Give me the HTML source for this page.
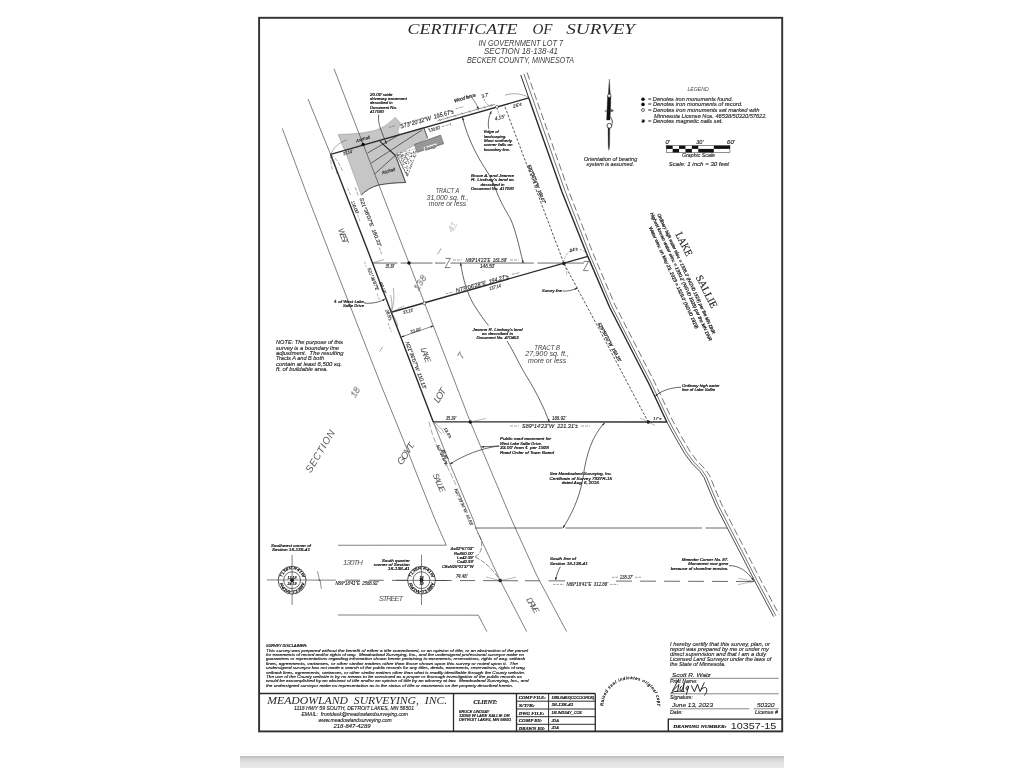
<!DOCTYPE html>
<html lang="en"><head><meta charset="utf-8"><title>Certificate of Survey</title>
<style>
html,body{margin:0;padding:0;background:#fff}
body{width:1024px;height:768px;overflow:hidden;position:relative}
svg{position:absolute;left:0;top:0;display:block;filter:grayscale(1) blur(.35px)}
#band{position:absolute;left:240px;top:756px;width:544px;height:12px;background:linear-gradient(to bottom,#bebebe 0,#c8c8c9 1.5px,#d8d8d9 3.5px,#e2e2e3 7px,#e9e9ea 12px)}
#bandl{position:absolute;left:240px;top:753px;width:544px;height:1px;background:#f6f6f7}
text{white-space:pre}
.s{font-family:"Liberation Sans",sans-serif;font-style:italic;fill:#1c1c1c;stroke:#1c1c1c;stroke-width:.12}
.b{font-family:"Liberation Sans",sans-serif;font-style:italic;fill:#161616;stroke:#161616;stroke-width:.22}
.l{font-family:"Liberation Sans",sans-serif;font-style:italic;fill:#484848}
.g{font-family:"Liberation Sans",sans-serif;font-style:italic;fill:#565656}
.d{font-family:"Liberation Sans",sans-serif;font-style:italic;fill:#1c1c1c;stroke:#1c1c1c;stroke-width:.16}
.sub{font-family:"Liberation Sans",sans-serif;font-style:italic;fill:#3c3c3c}
.gf{font-family:"Liberation Sans",sans-serif;font-style:italic;fill:none;stroke:#b4b4b4;stroke-width:.3}
.go{font-family:"Liberation Sans",sans-serif;font-style:italic;fill:none;stroke:#686868;stroke-width:.38}
.t{font-family:"Liberation Serif",serif;font-style:italic;fill:#2a2a2a}
.tb{font-family:"Liberation Serif",serif;font-style:italic;font-weight:bold;fill:#1c1c1c;stroke:#1c1c1c;stroke-width:.2}
.r{font-family:"Liberation Serif",serif;fill:#222;stroke:#222;stroke-width:.15}
.n{font-family:"Liberation Sans",sans-serif;fill:#222}
</style></head><body>
<div id="bandl"></div><div id="band"></div>
<svg width="1024" height="768" viewBox="0 0 1024 768">
<path d="M338.1 134.4 C352 134.2 366 133 376.3 130 C384 127.5 390 122.5 395.2 117.2 L400.3 123 L397.6 131.5 L400 134.4 L423.8 127.6 L427.6 138.1 L395.4 155.4 L405.6 182.5 C396 182.6 386 183.6 378.8 185 C371 187 366 190.5 361.3 195 L346.8 155.5 Z" fill="#c6c6c6" stroke="#8a8a8a" stroke-width="0.5"/>
<rect x="259.1" y="17.8" width="523.1" height="713.6" fill="none" stroke="#303030" stroke-width="1.9"/>
<text class="t" font-size="15.2" textLength="110.0" lengthAdjust="spacingAndGlyphs" x="407.50" y="33.90">CERTIFICATE</text>
<text class="t" font-size="15.2" textLength="20.0" lengthAdjust="spacingAndGlyphs" x="532.50" y="33.90">OF</text>
<text class="t" font-size="15.2" textLength="68.7" lengthAdjust="spacingAndGlyphs" x="566.30" y="33.90">SURVEY</text>
<text class="sub" font-size="8.2" text-anchor="middle" textLength="84.5" lengthAdjust="spacingAndGlyphs" x="520.75" y="46.20">IN GOVERNMENT LOT 7</text>
<text class="sub" font-size="8.2" text-anchor="middle" textLength="74.0" lengthAdjust="spacingAndGlyphs" x="521.00" y="54.30">SECTION 18-138-41</text>
<text class="sub" font-size="8.2" text-anchor="middle" textLength="107.0" lengthAdjust="spacingAndGlyphs" x="520.50" y="63.20">BECKER COUNTY, MINNESOTA</text>
<path d="M282.25 128.40 L306.00 192.00 L340.00 280.00 L380.60 384.00 L404.40 442.50 L417.50 476.00 L435.20 520.00 L446.25 545.20" fill="none" stroke="#383838" stroke-width="0.64"/>
<path d="M308.00 99.00 L330.60 154.40" fill="none" stroke="#383838" stroke-width="0.64"/>
<path d="M433.30 421.90 L450.00 464.00 L473.40 520.00 L476.70 530.00 L500.20 580.50 L526.70 631.60" fill="none" stroke="#383838" stroke-width="0.64"/>
<path d="M334.00 68.75 L409.00 262.90 L470.30 421.90 L511.70 520.00 L537.00 576.00 L566.60 631.60" fill="none" stroke="#383838" stroke-width="0.64"/>
<path d="M338.00 545.25 L446.25 545.20" fill="none" stroke="#383838" stroke-width="0.64"/>
<path d="M338.00 615.00 L478.30 615.20 L486.90 631.60" fill="none" stroke="#383838" stroke-width="0.64"/>
<path d="M330.60 154.40 L528.75 97.90 L562.00 192.00 L587.80 256.40 L609.50 307.00 L649.00 384.00 L666.80 421.95 L433.30 421.90 L391.25 312.25 L372.50 262.90 L330.60 154.40 Z" fill="none" stroke="#2a2a2a" stroke-width="1.4" stroke-linejoin="round"/>
<path d="M391.25 312.25 L587.80 256.40" fill="none" stroke="#2a2a2a" stroke-width="1.4"/>
<path d="M520.75 75.00 L528.75 97.90" fill="none" stroke="#2a2a2a" stroke-width="1.0"/>
<path d="M666.80 421.95 L676.00 438.75 L684.75 453.75 L692.25 463.75 L699.75 471.25 L704.10 477.50 L709.75 491.25 L716.00 506.00 L727.20 527.75 L738.75 550.00 L755.00 581.60 L773.60 616.60" fill="none" stroke="#2a2a2a" stroke-width="0.85"/>
<path d="M523.91 73.74 L531.91 96.64 L564.98 190.82 L590.12 255.47 L611.73 306.11 L651.23 383.11 L669.03 421.06 L678.23 437.86 L686.98 452.86 L694.48 462.86 L701.98 470.36 L706.33 476.61 L711.98 490.36 L718.23 505.11 L729.43 526.86 L740.98 549.11 L757.23 580.71 L775.83 615.71" fill="none" stroke="#3a3a3a" stroke-width="0.7"/>
<path d="M527.07 72.48 L535.07 95.38 L568.14 189.56 L593.38 254.18 L614.89 304.85 L654.39 381.85 L672.19 419.80 L681.39 436.60 L690.14 451.60 L697.64 461.60 L705.14 469.10 L709.49 475.35 L715.14 489.10 L721.39 503.85 L732.59 525.60 L744.14 547.85 L760.39 579.45 L778.99 614.45" fill="none" stroke="#3a3a3a" stroke-width="0.7" stroke-dasharray="7.5 3.2"/>
<path d="M505.00 106.90 L537.00 192.00 L563.90 263.40 L597.50 326.00 L628.00 384.00 L648.25 422.00" fill="none" stroke="#2c2c2c" stroke-width="0.8" stroke-dasharray="2.6 1.6"/>
<path d="M372.60 263.05 L397.50 263.05" fill="none" stroke="#3a3a3a" stroke-width="0.75"/>
<path d="M400.60 263.05 L432.50 263.05" fill="none" stroke="#3a3a3a" stroke-width="0.75"/>
<path d="M435.00 263.05 L445.50 263.05" fill="none" stroke="#3a3a3a" stroke-width="0.75"/>
<path d="M450.50 263.05 L533.75 263.05" fill="none" stroke="#3a3a3a" stroke-width="0.75"/>
<path d="M537.50 263.05 L563.90 263.05" fill="none" stroke="#3a3a3a" stroke-width="0.75"/>
<path d="M563.90 263.05 L584.00 263.05" fill="none" stroke="#3a3a3a" stroke-width="0.75"/>
<path d="M445.50 258.40 L450.40 258.40 L445.20 267.60 L450.10 267.60" fill="none" stroke="#444" stroke-width="0.7"/>
<path d="M583.70 261.40 L588.60 261.40 L583.40 270.60 L588.30 270.60" fill="none" stroke="#444" stroke-width="0.7"/>
<path d="M474.75 528.00 L562.50 528.00" fill="none" stroke="#3a3a3a" stroke-width="0.75"/>
<path d="M565.50 528.00 L702.00 528.00" fill="none" stroke="#3a3a3a" stroke-width="0.75"/>
<path d="M705.50 528.00 L727.00 528.00" fill="none" stroke="#3a3a3a" stroke-width="0.75"/>
<path d="M266.90 579.92 L336.00 580.15" fill="none" stroke="#383838" stroke-width="0.64"/>
<path d="M345.00 580.17 L360.00 580.22" fill="none" stroke="#3a3a3a" stroke-width="0.75"/>
<path d="M368.75 580.25 L383.75 580.30" fill="none" stroke="#3a3a3a" stroke-width="0.75"/>
<path d="M392.00 580.33 L408.00 580.38" fill="none" stroke="#3a3a3a" stroke-width="0.75"/>
<path d="M435.00 580.47 L451.70 580.53" fill="none" stroke="#3a3a3a" stroke-width="0.75"/>
<path d="M460.00 580.55 L475.20 580.60" fill="none" stroke="#3a3a3a" stroke-width="0.75"/>
<path d="M483.00 580.63 L518.00 580.75" fill="none" stroke="#3a3a3a" stroke-width="0.75"/>
<path d="M525.00 580.77 L540.00 580.82" fill="none" stroke="#3a3a3a" stroke-width="0.75"/>
<path d="M548.60 580.85 L565.00 580.90" fill="none" stroke="#3a3a3a" stroke-width="0.75"/>
<path d="M616.00 581.07 L632.00 581.12" fill="none" stroke="#3a3a3a" stroke-width="0.75"/>
<path d="M640.00 581.15 L656.00 581.20" fill="none" stroke="#3a3a3a" stroke-width="0.75"/>
<path d="M664.00 581.23 L680.00 581.28" fill="none" stroke="#3a3a3a" stroke-width="0.75"/>
<path d="M688.00 581.31 L704.00 581.36" fill="none" stroke="#3a3a3a" stroke-width="0.75"/>
<path d="M712.00 581.39 L728.00 581.44" fill="none" stroke="#3a3a3a" stroke-width="0.75"/>
<path d="M736.00 581.47 L754.60 581.53" fill="none" stroke="#3a3a3a" stroke-width="0.75"/>
<path d="M317.50 571.20 L319.60 580.60 L318.70 580.20 L320.20 580.40 L321.30 588.80" fill="none" stroke="#333" stroke-width="0.55"/>
<path d="M401.30 337.00 L433.30 325.90" fill="none" stroke="#333" stroke-width="0.6"/>
<circle cx="292.10" cy="580.20" r="13.90" fill="none" stroke="#2a2a2a" stroke-width="0.8"/>
<circle cx="292.10" cy="580.20" r="8.40" fill="none" stroke="#2a2a2a" stroke-width="0.7"/>
<circle cx="292.10" cy="580.20" r="1.90" fill="#111" stroke="none" stroke-width="0.6"/>
<path d="M292.10 554.80 L292.10 605.00" fill="none" stroke="#383838" stroke-width="0.64"/>
<circle cx="421.50" cy="580.20" r="13.90" fill="none" stroke="#2a2a2a" stroke-width="0.8"/>
<circle cx="421.50" cy="580.20" r="8.40" fill="none" stroke="#2a2a2a" stroke-width="0.7"/>
<circle cx="421.50" cy="580.20" r="1.90" fill="#111" stroke="none" stroke-width="0.6"/>
<path d="M421.50 554.80 L421.50 605.00" fill="none" stroke="#383838" stroke-width="0.64"/>
<path d="M396.00 580.34 L447.00 580.51" fill="none" stroke="#383838" stroke-width="0.64"/>
<circle cx="363.10" cy="144.60" r="1.75" fill="#111" stroke="none" stroke-width="0.6"/>
<circle cx="409.00" cy="262.90" r="1.75" fill="#111" stroke="none" stroke-width="0.6"/>
<circle cx="563.90" cy="263.40" r="1.75" fill="#111" stroke="none" stroke-width="0.6"/>
<circle cx="470.30" cy="421.90" r="1.75" fill="#111" stroke="none" stroke-width="0.6"/>
<circle cx="648.25" cy="422.00" r="1.75" fill="#111" stroke="none" stroke-width="0.6"/>
<circle cx="500.20" cy="580.50" r="1.75" fill="#111" stroke="none" stroke-width="0.6"/>
<circle cx="424.40" cy="303.20" r="1.50" fill="#fff" stroke="#222" stroke-width="0.6"/>
<circle cx="496.90" cy="106.90" r="1.50" fill="#fff" stroke="#222" stroke-width="0.6"/>
<path d="M400.00 134.40 L367.50 153.00" fill="none" stroke="#2e2e2e" stroke-width="0.7"/>
<path d="M421.90 130.00 L371.25 163.00" fill="none" stroke="#2e2e2e" stroke-width="0.7"/>
<path d="M395.00 155.60 L375.00 173.75" fill="none" stroke="#2e2e2e" stroke-width="0.7"/>
<path d="M380.00 141.40 L395.60 155.60" fill="none" stroke="#222" stroke-width="1.2"/>
<path d="M423.80 127.60 L427.60 138.10" fill="none" stroke="#333" stroke-width="0.7"/>
<path d="M395.40 155.40 L405.60 182.50" fill="none" stroke="#333" stroke-width="0.9"/>
<path d="M405.6 182.5 C396 182.6 386 183.6 378.8 185 C371 187 366 190.5 361.3 195" fill="none" stroke="#333" stroke-width="0.8"/>
<path d="M414.40 144.40 L440.60 135.00 L443.75 143.75 L416.90 152.50 Z" fill="#8c8c8c" stroke="#555" stroke-width="0.5"/>
<path d="M414.90 146.02 L441.23 136.75" fill="none" stroke="#c9c9c9" stroke-width="0.35"/>
<path d="M415.40 147.64 L441.86 138.50" fill="none" stroke="#c9c9c9" stroke-width="0.35"/>
<path d="M415.90 149.26 L442.49 140.25" fill="none" stroke="#c9c9c9" stroke-width="0.35"/>
<path d="M416.40 150.88 L443.12 142.00" fill="none" stroke="#c9c9c9" stroke-width="0.35"/>
<path d="M396.50 153.60 L415.00 148.80 L416.00 155.00 L407.40 176.30 Z" fill="#fff" stroke="#999" stroke-width="0.4"/>
<circle cx="402.80" cy="152.37" r="0.48" fill="#3c3c3c" stroke="none" stroke-width="0.6"/>
<circle cx="407.25" cy="158.60" r="0.48" fill="#3c3c3c" stroke="none" stroke-width="0.6"/>
<circle cx="398.60" cy="154.47" r="0.48" fill="#3c3c3c" stroke="none" stroke-width="0.6"/>
<circle cx="408.12" cy="159.50" r="0.48" fill="#3c3c3c" stroke="none" stroke-width="0.6"/>
<circle cx="414.03" cy="156.40" r="0.48" fill="#3c3c3c" stroke="none" stroke-width="0.6"/>
<circle cx="409.42" cy="158.80" r="0.48" fill="#3c3c3c" stroke="none" stroke-width="0.6"/>
<circle cx="397.25" cy="153.97" r="0.48" fill="#3c3c3c" stroke="none" stroke-width="0.6"/>
<circle cx="410.29" cy="160.40" r="0.48" fill="#3c3c3c" stroke="none" stroke-width="0.6"/>
<circle cx="402.60" cy="164.98" r="0.48" fill="#3c3c3c" stroke="none" stroke-width="0.6"/>
<circle cx="405.52" cy="156.69" r="0.48" fill="#3c3c3c" stroke="none" stroke-width="0.6"/>
<circle cx="407.03" cy="173.38" r="0.48" fill="#3c3c3c" stroke="none" stroke-width="0.6"/>
<circle cx="411.32" cy="156.35" r="0.48" fill="#3c3c3c" stroke="none" stroke-width="0.6"/>
<circle cx="404.78" cy="169.96" r="0.48" fill="#3c3c3c" stroke="none" stroke-width="0.6"/>
<circle cx="412.06" cy="164.62" r="0.48" fill="#3c3c3c" stroke="none" stroke-width="0.6"/>
<circle cx="414.39" cy="157.10" r="0.48" fill="#3c3c3c" stroke="none" stroke-width="0.6"/>
<circle cx="410.60" cy="165.24" r="0.48" fill="#3c3c3c" stroke="none" stroke-width="0.6"/>
<circle cx="408.18" cy="161.23" r="0.48" fill="#3c3c3c" stroke="none" stroke-width="0.6"/>
<circle cx="405.96" cy="167.26" r="0.48" fill="#3c3c3c" stroke="none" stroke-width="0.6"/>
<circle cx="413.26" cy="156.25" r="0.48" fill="#3c3c3c" stroke="none" stroke-width="0.6"/>
<circle cx="404.10" cy="167.39" r="0.48" fill="#3c3c3c" stroke="none" stroke-width="0.6"/>
<circle cx="398.72" cy="155.18" r="0.48" fill="#3c3c3c" stroke="none" stroke-width="0.6"/>
<circle cx="407.54" cy="173.62" r="0.48" fill="#3c3c3c" stroke="none" stroke-width="0.6"/>
<circle cx="401.85" cy="160.04" r="0.48" fill="#3c3c3c" stroke="none" stroke-width="0.6"/>
<circle cx="399.70" cy="154.73" r="0.48" fill="#3c3c3c" stroke="none" stroke-width="0.6"/>
<circle cx="400.90" cy="162.06" r="0.48" fill="#3c3c3c" stroke="none" stroke-width="0.6"/>
<circle cx="408.37" cy="155.62" r="0.48" fill="#3c3c3c" stroke="none" stroke-width="0.6"/>
<circle cx="403.75" cy="164.42" r="0.48" fill="#3c3c3c" stroke="none" stroke-width="0.6"/>
<circle cx="406.83" cy="165.91" r="0.48" fill="#3c3c3c" stroke="none" stroke-width="0.6"/>
<circle cx="404.24" cy="159.57" r="0.48" fill="#3c3c3c" stroke="none" stroke-width="0.6"/>
<circle cx="400.38" cy="152.71" r="0.48" fill="#3c3c3c" stroke="none" stroke-width="0.6"/>
<circle cx="408.90" cy="152.31" r="0.48" fill="#3c3c3c" stroke="none" stroke-width="0.6"/>
<circle cx="401.30" cy="158.07" r="0.48" fill="#3c3c3c" stroke="none" stroke-width="0.6"/>
<circle cx="405.79" cy="162.03" r="0.48" fill="#3c3c3c" stroke="none" stroke-width="0.6"/>
<circle cx="403.20" cy="155.68" r="0.48" fill="#3c3c3c" stroke="none" stroke-width="0.6"/>
<circle cx="413.41" cy="152.68" r="0.48" fill="#3c3c3c" stroke="none" stroke-width="0.6"/>
<circle cx="407.09" cy="152.25" r="0.48" fill="#3c3c3c" stroke="none" stroke-width="0.6"/>
<circle cx="401.48" cy="158.63" r="0.48" fill="#3c3c3c" stroke="none" stroke-width="0.6"/>
<circle cx="407.18" cy="170.59" r="0.48" fill="#3c3c3c" stroke="none" stroke-width="0.6"/>
<circle cx="402.92" cy="154.47" r="0.48" fill="#3c3c3c" stroke="none" stroke-width="0.6"/>
<circle cx="400.63" cy="154.58" r="0.48" fill="#3c3c3c" stroke="none" stroke-width="0.6"/>
<circle cx="400.13" cy="153.93" r="0.48" fill="#3c3c3c" stroke="none" stroke-width="0.6"/>
<circle cx="411.75" cy="161.86" r="0.48" fill="#3c3c3c" stroke="none" stroke-width="0.6"/>
<circle cx="411.22" cy="152.93" r="0.48" fill="#3c3c3c" stroke="none" stroke-width="0.6"/>
<circle cx="403.36" cy="163.91" r="0.48" fill="#3c3c3c" stroke="none" stroke-width="0.6"/>
<circle cx="407.06" cy="175.08" r="0.48" fill="#3c3c3c" stroke="none" stroke-width="0.6"/>
<circle cx="413.35" cy="154.12" r="0.48" fill="#3c3c3c" stroke="none" stroke-width="0.6"/>
<circle cx="401.29" cy="156.50" r="0.48" fill="#3c3c3c" stroke="none" stroke-width="0.6"/>
<circle cx="401.45" cy="160.15" r="0.48" fill="#3c3c3c" stroke="none" stroke-width="0.6"/>
<circle cx="403.43" cy="161.29" r="0.48" fill="#3c3c3c" stroke="none" stroke-width="0.6"/>
<circle cx="406.53" cy="163.42" r="0.48" fill="#3c3c3c" stroke="none" stroke-width="0.6"/>
<circle cx="405.24" cy="153.31" r="0.48" fill="#3c3c3c" stroke="none" stroke-width="0.6"/>
<circle cx="411.23" cy="164.14" r="0.48" fill="#3c3c3c" stroke="none" stroke-width="0.6"/>
<circle cx="402.85" cy="163.03" r="0.48" fill="#3c3c3c" stroke="none" stroke-width="0.6"/>
<circle cx="407.66" cy="170.74" r="0.48" fill="#3c3c3c" stroke="none" stroke-width="0.6"/>
<circle cx="401.22" cy="156.03" r="0.48" fill="#3c3c3c" stroke="none" stroke-width="0.6"/>
<circle cx="412.22" cy="162.72" r="0.48" fill="#3c3c3c" stroke="none" stroke-width="0.6"/>
<circle cx="407.80" cy="170.04" r="0.48" fill="#3c3c3c" stroke="none" stroke-width="0.6"/>
<circle cx="408.86" cy="162.66" r="0.48" fill="#3c3c3c" stroke="none" stroke-width="0.6"/>
<circle cx="406.76" cy="168.09" r="0.48" fill="#3c3c3c" stroke="none" stroke-width="0.6"/>
<circle cx="405.50" cy="163.47" r="0.48" fill="#3c3c3c" stroke="none" stroke-width="0.6"/>
<circle cx="415.79" cy="155.53" r="0.48" fill="#3c3c3c" stroke="none" stroke-width="0.6"/>
<circle cx="407.75" cy="175.35" r="0.48" fill="#3c3c3c" stroke="none" stroke-width="0.6"/>
<circle cx="413.64" cy="151.98" r="0.48" fill="#3c3c3c" stroke="none" stroke-width="0.6"/>
<circle cx="397.52" cy="154.98" r="0.48" fill="#3c3c3c" stroke="none" stroke-width="0.6"/>
<circle cx="409.87" cy="152.15" r="0.48" fill="#3c3c3c" stroke="none" stroke-width="0.6"/>
<circle cx="404.36" cy="162.13" r="0.48" fill="#3c3c3c" stroke="none" stroke-width="0.6"/>
<circle cx="406.83" cy="157.83" r="0.48" fill="#3c3c3c" stroke="none" stroke-width="0.6"/>
<circle cx="400.11" cy="157.24" r="0.48" fill="#3c3c3c" stroke="none" stroke-width="0.6"/>
<circle cx="407.64" cy="160.77" r="0.48" fill="#3c3c3c" stroke="none" stroke-width="0.6"/>
<circle cx="409.10" cy="162.86" r="0.48" fill="#3c3c3c" stroke="none" stroke-width="0.6"/>
<circle cx="398.20" cy="155.70" r="0.48" fill="#3c3c3c" stroke="none" stroke-width="0.6"/>
<circle cx="413.20" cy="155.50" r="0.48" fill="#3c3c3c" stroke="none" stroke-width="0.6"/>
<circle cx="407.98" cy="168.31" r="0.48" fill="#3c3c3c" stroke="none" stroke-width="0.6"/>
<circle cx="410.45" cy="160.33" r="0.48" fill="#3c3c3c" stroke="none" stroke-width="0.6"/>
<circle cx="409.32" cy="171.25" r="0.48" fill="#3c3c3c" stroke="none" stroke-width="0.6"/>
<circle cx="405.53" cy="157.84" r="0.48" fill="#3c3c3c" stroke="none" stroke-width="0.6"/>
<circle cx="407.61" cy="174.87" r="0.48" fill="#3c3c3c" stroke="none" stroke-width="0.6"/>
<circle cx="407.07" cy="154.91" r="0.48" fill="#3c3c3c" stroke="none" stroke-width="0.6"/>
<circle cx="397.06" cy="153.85" r="0.48" fill="#3c3c3c" stroke="none" stroke-width="0.6"/>
<circle cx="402.55" cy="156.85" r="0.48" fill="#3c3c3c" stroke="none" stroke-width="0.6"/>
<circle cx="411.95" cy="156.41" r="0.48" fill="#3c3c3c" stroke="none" stroke-width="0.6"/>
<circle cx="406.50" cy="153.16" r="0.48" fill="#3c3c3c" stroke="none" stroke-width="0.6"/>
<circle cx="411.39" cy="163.98" r="0.48" fill="#3c3c3c" stroke="none" stroke-width="0.6"/>
<circle cx="413.20" cy="160.53" r="0.48" fill="#3c3c3c" stroke="none" stroke-width="0.6"/>
<circle cx="406.40" cy="172.20" r="0.48" fill="#3c3c3c" stroke="none" stroke-width="0.6"/>
<circle cx="404.25" cy="162.69" r="0.48" fill="#3c3c3c" stroke="none" stroke-width="0.6"/>
<circle cx="410.84" cy="166.44" r="0.48" fill="#3c3c3c" stroke="none" stroke-width="0.6"/>
<circle cx="404.50" cy="158.08" r="0.48" fill="#3c3c3c" stroke="none" stroke-width="0.6"/>
<circle cx="401.37" cy="152.73" r="0.48" fill="#3c3c3c" stroke="none" stroke-width="0.6"/>
<circle cx="401.92" cy="155.02" r="0.48" fill="#3c3c3c" stroke="none" stroke-width="0.6"/>
<circle cx="402.15" cy="161.32" r="0.48" fill="#3c3c3c" stroke="none" stroke-width="0.6"/>
<circle cx="402.50" cy="158.34" r="0.48" fill="#3c3c3c" stroke="none" stroke-width="0.6"/>
<circle cx="405.97" cy="162.58" r="0.48" fill="#3c3c3c" stroke="none" stroke-width="0.6"/>
<circle cx="402.39" cy="154.75" r="0.48" fill="#3c3c3c" stroke="none" stroke-width="0.6"/>
<circle cx="408.30" cy="163.35" r="0.48" fill="#3c3c3c" stroke="none" stroke-width="0.6"/>
<circle cx="404.18" cy="157.46" r="0.48" fill="#3c3c3c" stroke="none" stroke-width="0.6"/>
<circle cx="411.21" cy="166.65" r="0.48" fill="#3c3c3c" stroke="none" stroke-width="0.6"/>
<circle cx="406.59" cy="172.21" r="0.48" fill="#3c3c3c" stroke="none" stroke-width="0.6"/>
<circle cx="408.27" cy="173.89" r="0.48" fill="#3c3c3c" stroke="none" stroke-width="0.6"/>
<circle cx="410.34" cy="168.11" r="0.48" fill="#3c3c3c" stroke="none" stroke-width="0.6"/>
<circle cx="407.73" cy="166.21" r="0.48" fill="#3c3c3c" stroke="none" stroke-width="0.6"/>
<circle cx="409.15" cy="167.74" r="0.48" fill="#3c3c3c" stroke="none" stroke-width="0.6"/>
<circle cx="406.56" cy="163.52" r="0.48" fill="#3c3c3c" stroke="none" stroke-width="0.6"/>
<circle cx="411.47" cy="155.31" r="0.48" fill="#3c3c3c" stroke="none" stroke-width="0.6"/>
<circle cx="397.56" cy="155.70" r="0.48" fill="#3c3c3c" stroke="none" stroke-width="0.6"/>
<circle cx="411.32" cy="153.95" r="0.48" fill="#3c3c3c" stroke="none" stroke-width="0.6"/>
<circle cx="406.37" cy="159.09" r="0.48" fill="#3c3c3c" stroke="none" stroke-width="0.6"/>
<circle cx="406.06" cy="167.83" r="0.48" fill="#3c3c3c" stroke="none" stroke-width="0.6"/>
<circle cx="409.50" cy="150.25" r="0.48" fill="#3c3c3c" stroke="none" stroke-width="0.6"/>
<circle cx="399.10" cy="155.36" r="0.48" fill="#3c3c3c" stroke="none" stroke-width="0.6"/>
<circle cx="411.61" cy="156.83" r="0.48" fill="#3c3c3c" stroke="none" stroke-width="0.6"/>
<circle cx="410.11" cy="168.07" r="0.48" fill="#3c3c3c" stroke="none" stroke-width="0.6"/>
<circle cx="410.19" cy="156.43" r="0.48" fill="#3c3c3c" stroke="none" stroke-width="0.6"/>
<circle cx="406.85" cy="161.48" r="0.48" fill="#3c3c3c" stroke="none" stroke-width="0.6"/>
<circle cx="405.79" cy="151.44" r="0.48" fill="#3c3c3c" stroke="none" stroke-width="0.6"/>
<circle cx="414.77" cy="153.78" r="0.48" fill="#3c3c3c" stroke="none" stroke-width="0.6"/>
<circle cx="405.44" cy="155.79" r="0.48" fill="#3c3c3c" stroke="none" stroke-width="0.6"/>
<circle cx="405.47" cy="156.76" r="0.48" fill="#3c3c3c" stroke="none" stroke-width="0.6"/>
<circle cx="398.95" cy="157.97" r="0.48" fill="#3c3c3c" stroke="none" stroke-width="0.6"/>
<circle cx="413.62" cy="151.48" r="0.48" fill="#3c3c3c" stroke="none" stroke-width="0.6"/>
<circle cx="414.93" cy="156.41" r="0.48" fill="#3c3c3c" stroke="none" stroke-width="0.6"/>
<circle cx="403.82" cy="159.39" r="0.48" fill="#3c3c3c" stroke="none" stroke-width="0.6"/>
<circle cx="403.57" cy="160.41" r="0.48" fill="#3c3c3c" stroke="none" stroke-width="0.6"/>
<circle cx="401.24" cy="155.71" r="0.48" fill="#3c3c3c" stroke="none" stroke-width="0.6"/>
<circle cx="406.73" cy="153.51" r="0.48" fill="#3c3c3c" stroke="none" stroke-width="0.6"/>
<circle cx="411.38" cy="161.07" r="0.48" fill="#3c3c3c" stroke="none" stroke-width="0.6"/>
<circle cx="415.46" cy="151.69" r="0.48" fill="#3c3c3c" stroke="none" stroke-width="0.6"/>
<circle cx="405.92" cy="157.97" r="0.48" fill="#3c3c3c" stroke="none" stroke-width="0.6"/>
<circle cx="409.78" cy="156.72" r="0.48" fill="#3c3c3c" stroke="none" stroke-width="0.6"/>
<circle cx="407.70" cy="159.44" r="0.48" fill="#3c3c3c" stroke="none" stroke-width="0.6"/>
<path d="M399.30 156.60 L415.60 152.20" fill="none" stroke="#666" stroke-width="0.5"/>
<path d="M396.60 155.30 L407.40 176.30" fill="none" stroke="#555" stroke-width="0.7"/>
<path d="M437.50 120.70 L495.00 104.30" fill="none" stroke="#444" stroke-width="0.55"/>
<path d="M439.10 119.10 L440.90 120.90" fill="none" stroke="#333" stroke-width="0.5"/>
<path d="M446.53 116.98 L448.33 118.78" fill="none" stroke="#333" stroke-width="0.5"/>
<path d="M453.96 114.86 L455.76 116.66" fill="none" stroke="#333" stroke-width="0.5"/>
<path d="M461.39 112.74 L463.19 114.54" fill="none" stroke="#333" stroke-width="0.5"/>
<path d="M468.81 110.61 L470.61 112.41" fill="none" stroke="#333" stroke-width="0.5"/>
<path d="M476.24 108.49 L478.04 110.29" fill="none" stroke="#333" stroke-width="0.5"/>
<path d="M483.67 106.37 L485.47 108.17" fill="none" stroke="#333" stroke-width="0.5"/>
<path d="M491.10 104.25 L492.90 106.05" fill="none" stroke="#333" stroke-width="0.5"/>
<path d="M505 95.2 C513 92.6 521 93.6 528 96.9" fill="none" stroke="#555" stroke-width="0.5"/>
<path d="M330.6 154.4 C333 148 339 142.5 347 139.8" fill="none" stroke="#555" stroke-width="0.5"/>
<path d="M330.6 154.4 C336 158 340 164 343 172" fill="none" stroke="#555" stroke-width="0.5" stroke-dasharray="4 1.5"/>
<path d="M330.6 154.4 C334 160 336 166 337 174" fill="none" stroke="#555" stroke-width="0.5" stroke-dasharray="4 1.5"/>
<path d="M330.6 154.4 C330.5 160 331 166 332.5 170" fill="none" stroke="#555" stroke-width="0.5" stroke-dasharray="4 1.5"/>
<path d="M462.5 117.5 C468 140 478 158 488 173 C492 180 495 187 497.5 194 C503 207 508 214 511 220 C515 229 519 245 523.1 263.1" fill="none" stroke="#333" stroke-width="0.75"/>
<path d="M460.6 263.1 C463 280 468 295 474 305 C479 313 484 320 488.5 325.5 M507 341 C514 352 521 368 527 377 C535 390 543 405 549.3 421.9" fill="none" stroke="#333" stroke-width="0.75"/>
<path d="M378.8 114.6 C377 124 383 134 386.3 143.8" fill="none" stroke="#333" stroke-width="0.75"/>
<path d="M488.8 128.8 C487.5 122 489 116 491.3 111.3" fill="none" stroke="#333" stroke-width="0.75"/>
<path d="M364 303 C372 304 380 302 385 299" fill="none" stroke="#333" stroke-width="0.75"/>
<path d="M562.5 291 C568 291.5 573 290 577.5 288" fill="none" stroke="#333" stroke-width="0.75"/>
<path d="M499.2 446 L481.3 446.9 M499.2 446 C482 448 464 455 450 464" fill="none" stroke="#333" stroke-width="0.75"/>
<path d="M604.5 422.8 C592 436 586 455 583 478 C579 500 571 515 563 528" fill="none" stroke="#333" stroke-width="0.75"/>
<path d="M560.3 566.7 C558 571 556.5 575 555.6 580" fill="none" stroke="#333" stroke-width="0.75"/>
<path d="M729 565.6 C739 565.5 747 571 753.5 580.5" fill="none" stroke="#333" stroke-width="0.75"/>
<path d="M681 387.2 C672 387.5 662 390 655.3 396.2" fill="none" stroke="#333" stroke-width="0.75"/>
<path d="M475 557 C483 553 484 541 477.5 533 M475 557 C486 562 494 571 500 580.5" fill="none" stroke="#333" stroke-width="0.55" stroke-dasharray="5 1.5"/>
<path d="M429 421.5 C431 432 435 442 440 452 C444 460 449 470 456 485" fill="none" stroke="#555" stroke-width="0.5" stroke-dasharray="6 2"/>
<path d="M433.3 421.9 C438 425 442 429 444.5 433.5 M433.3 421.9 C436 427 438 431 442 434" fill="none" stroke="#555" stroke-width="0.45"/>
<path d="M470.3 421.9 L486 418.5 M500.2 580.5 L486 577 M500.2 580.5 L516 577.3 M648.25 422 L640 418 M648.25 422 L655 425.5 M754.8 581.4 L738 578.3 M754.8 581.4 L738 584.6" fill="none" stroke="#666" stroke-width="0.45"/>
<path d="M471.5 97.3 C474 100 476.5 104 478.6 109.2" fill="none" stroke="#333" stroke-width="0.6"/>
<path d="M484 99 C485 103 488 105.5 492 106.5" fill="none" stroke="#444" stroke-width="0.5" stroke-dasharray="2 1"/>
<path d="M497 108 C498 112 499 114 500 116" fill="none" stroke="#444" stroke-width="0.5" stroke-dasharray="2 1"/>
<path d="M563.9 263.4 C564 257 567 252 572 250 M563.9 263.4 C566 268 567 272 567 276 M588 256 C586 252 583 250 580 249.5" fill="none" stroke="#555" stroke-width="0.45" stroke-dasharray="3 1.2"/>
<path d="M372.5 262.9 L384 259.7 M391.25 312.25 C394 304 394.5 296 393.3 288 M391.25 312.25 C392.5 306 392 300 390.5 295 M391.25 312.25 L404 306 M391.25 312.25 C394 316 396.5 321 398 326" fill="none" stroke="#555" stroke-width="0.45"/>
<text class="b" font-size="4.3" textLength="22.5" lengthAdjust="spacingAndGlyphs" x="370.00" y="96.17">20.00' wide</text>
<text class="b" font-size="4.3" textLength="36.9" lengthAdjust="spacingAndGlyphs" x="370.00" y="100.42">driveway easement</text>
<text class="b" font-size="4.3" textLength="22.5" lengthAdjust="spacingAndGlyphs" x="370.00" y="104.32">described in</text>
<text class="b" font-size="4.3" textLength="26.9" lengthAdjust="spacingAndGlyphs" x="370.00" y="108.52">Document No.</text>
<text class="b" font-size="4.3" textLength="13.8" lengthAdjust="spacingAndGlyphs" x="370.00" y="112.67">417080</text>
<text class="s" font-size="6.2" textLength="55.5" lengthAdjust="spacingAndGlyphs" transform="translate(400.80 128.60) rotate(-16.0)">S73°20'32"W  195.67'±</text>
<path d="M389.00 127.40 L396.00 125.40" fill="none" stroke="#444" stroke-width="0.5" stroke-dasharray="2.5 1"/>
<path d="M455.60 108.90 L463.75 106.60" fill="none" stroke="#444" stroke-width="0.5" stroke-dasharray="3 1"/>
<text class="s" font-size="4.6" textLength="11.7" lengthAdjust="spacingAndGlyphs" transform="translate(429.30 132.10) rotate(-16.0)">130.80'</text>
<path d="M442.00 126.60 L450.50 124.20" fill="none" stroke="#444" stroke-width="0.5" stroke-dasharray="3 1"/>
<path d="M450.10 122.90 L450.90 125.60" fill="none" stroke="#444" stroke-width="0.5"/>
<path d="M428.00 127.40 L428.80 130.10" fill="none" stroke="#444" stroke-width="0.5"/>
<text class="s" font-size="4.6" textLength="10.0" lengthAdjust="spacingAndGlyphs" transform="translate(343.40 155.40) rotate(-16.0)">33.14'</text>
<text class="s" font-size="4.4" textLength="14.3" lengthAdjust="spacingAndGlyphs" transform="translate(356.50 142.40) rotate(-16.0)">Asphalt</text>
<text class="s" font-size="4.4" textLength="13.6" lengthAdjust="spacingAndGlyphs" transform="translate(382.20 174.20) rotate(-16.0)">Asphalt</text>
<rect x="0" y="-3.6" width="13.4" height="4.4" fill="#f4f4f4" transform="translate(424.6 150.9) rotate(-18)"/>
<text class="s" font-size="4.2" textLength="12.3" lengthAdjust="spacingAndGlyphs" transform="translate(425.20 150.60) rotate(-18.0)">Garage</text>
<text class="b" font-size="4.8" textLength="22.0" lengthAdjust="spacingAndGlyphs" transform="translate(454.80 102.40) rotate(-16.0)">Wood fence</text>
<text class="s" font-size="5" textLength="7.2" lengthAdjust="spacingAndGlyphs" transform="translate(482.00 98.00) rotate(-16.0)">3.7'</text>
<text class="s" font-size="4.6" textLength="9.3" lengthAdjust="spacingAndGlyphs" transform="translate(513.20 107.90) rotate(-16.0)">25'±</text>
<text class="s" font-size="5" textLength="10.3" lengthAdjust="spacingAndGlyphs" transform="translate(495.20 120.40) rotate(-14.0)">4.15'</text>
<text class="b" font-size="4.4" textLength="14.8" lengthAdjust="spacingAndGlyphs" x="484.00" y="133.35">Edge of</text>
<text class="b" font-size="4.4" textLength="22.2" lengthAdjust="spacingAndGlyphs" x="484.00" y="137.70">landscaping.</text>
<text class="b" font-size="4.4" textLength="27.9" lengthAdjust="spacingAndGlyphs" x="484.00" y="142.35">Most northerly</text>
<text class="b" font-size="4.4" textLength="28.5" lengthAdjust="spacingAndGlyphs" x="484.00" y="146.45">corner falls on</text>
<text class="b" font-size="4.4" textLength="26.0" lengthAdjust="spacingAndGlyphs" x="484.00" y="150.55">boundary line.</text>
<text class="b" font-size="4.4" text-anchor="middle" textLength="43.0" lengthAdjust="spacingAndGlyphs" x="492.50" y="177.20">Bruce A. and Jeanne</text>
<text class="b" font-size="4.4" text-anchor="middle" textLength="43.0" lengthAdjust="spacingAndGlyphs" x="492.50" y="181.45">R. Lindsay's land as</text>
<text class="b" font-size="4.4" text-anchor="middle" textLength="24.0" lengthAdjust="spacingAndGlyphs" x="492.50" y="185.95">described in</text>
<text class="b" font-size="4.4" text-anchor="middle" textLength="43.0" lengthAdjust="spacingAndGlyphs" x="492.50" y="190.20">Document No. 417080</text>
<text class="sub" font-size="6.8" text-anchor="middle" textLength="23.6" lengthAdjust="spacingAndGlyphs" x="447.50" y="193.04">TRACT A</text>
<text class="sub" font-size="6.8" text-anchor="middle" textLength="41.8" lengthAdjust="spacingAndGlyphs" x="447.50" y="199.84">31,000 sq. ft.,</text>
<text class="sub" font-size="6.8" text-anchor="middle" textLength="37.5" lengthAdjust="spacingAndGlyphs" x="447.50" y="206.44">more or less</text>
<text class="s" font-size="5.1" textLength="51.5" lengthAdjust="spacingAndGlyphs" transform="translate(359.40 198.60) rotate(68.5)">S21°36'07"E  160.33'</text>
<path d="M355.20 187.50 L358.60 196.30" fill="none" stroke="#444" stroke-width="0.5" stroke-dasharray="3.5 1.5"/>
<path d="M379.20 247.50 L382.00 255.00" fill="none" stroke="#444" stroke-width="0.5" stroke-dasharray="3 1.2"/>
<text class="s" font-size="4.6" textLength="13.4" lengthAdjust="spacingAndGlyphs" transform="translate(351.00 201.50) rotate(69.0)">110.00'</text>
<path d="M350.50 195.00 L348.00 188.50" fill="none" stroke="#555" stroke-width="0.45" stroke-dasharray="3 1.2"/>
<path d="M357.50 214.50 L360.00 221.00" fill="none" stroke="#555" stroke-width="0.45" stroke-dasharray="3 1.2"/>
<text class="s" font-size="4.6" textLength="23.6" lengthAdjust="spacingAndGlyphs" transform="translate(367.50 268.60) rotate(69.0)">S21°36'07"E</text>
<text class="s" font-size="4.6" textLength="11.2" lengthAdjust="spacingAndGlyphs" transform="translate(379.30 283.00) rotate(69.0)">60.13'</text>
<text class="s" font-size="4.4" textLength="11.5" lengthAdjust="spacingAndGlyphs" transform="translate(385.30 310.20) rotate(69.0)">28.5'±</text>
<path d="M364.50 261.50 L366.50 267.00" fill="none" stroke="#555" stroke-width="0.45" stroke-dasharray="3 1.2"/>
<path d="M377.00 293.50 L379.50 300.00" fill="none" stroke="#555" stroke-width="0.45" stroke-dasharray="3 1.2"/>
<path d="M388.00 323.00 L391.50 332.00" fill="none" stroke="#555" stroke-width="0.45" stroke-dasharray="3 1.2"/>
<text class="s" font-size="4.6" textLength="9.2" lengthAdjust="spacingAndGlyphs" x="385.40" y="267.72">35.39'</text>
<text class="s" font-size="4.6" textLength="10.4" lengthAdjust="spacingAndGlyphs" transform="translate(403.60 314.20) rotate(-16.0)">33.13'</text>
<text class="s" font-size="4.8" textLength="11.0" lengthAdjust="spacingAndGlyphs" transform="translate(410.80 333.60) rotate(-16.0)">33.00'</text>
<path d="M453.00 260.00 L462.00 260.00" fill="none" stroke="#444" stroke-width="0.5" stroke-dasharray="3 1"/>
<path d="M510.00 260.00 L518.75 260.00" fill="none" stroke="#444" stroke-width="0.5" stroke-dasharray="3 1"/>
<text class="s" font-size="5.4" textLength="41.3" lengthAdjust="spacingAndGlyphs" x="465.60" y="261.98">N89°14'23"E  181.89'</text>
<text class="s" font-size="4.6" textLength="15.0" lengthAdjust="spacingAndGlyphs" x="480.00" y="267.92">146.50'</text>
<text class="s" font-size="5.8" textLength="54.4" lengthAdjust="spacingAndGlyphs" transform="translate(456.60 292.60) rotate(-15.4)">N73°06'28"E  194.27'±</text>
<path d="M445.60 293.80 L453.70 291.90" fill="none" stroke="#444" stroke-width="0.5" stroke-dasharray="3 1"/>
<path d="M511.90 274.40 L520.00 272.50" fill="none" stroke="#444" stroke-width="0.5" stroke-dasharray="3 1"/>
<text class="s" font-size="4.6" textLength="12.4" lengthAdjust="spacingAndGlyphs" transform="translate(489.80 290.20) rotate(-15.4)">137.14'</text>
<text class="b" font-size="4.4" text-anchor="end" textLength="30.0" lengthAdjust="spacingAndGlyphs" x="364.00" y="302.95">℄ of West Lake</text>
<text class="b" font-size="4.4" text-anchor="end" textLength="21.0" lengthAdjust="spacingAndGlyphs" x="364.00" y="307.45">Sallie Drive</text>
<text class="s" font-size="5.6" textLength="67.0" lengthAdjust="spacingAndGlyphs" x="276.00" y="344.35">NOTE: The purpose of this</text>
<text class="s" font-size="5.6" textLength="63.0" lengthAdjust="spacingAndGlyphs" x="276.00" y="349.60">survey is a boundary line</text>
<text class="s" font-size="5.6" textLength="67.5" lengthAdjust="spacingAndGlyphs" x="276.00" y="354.85">adjustment.  The resulting</text>
<text class="s" font-size="5.6" textLength="48.0" lengthAdjust="spacingAndGlyphs" x="276.00" y="360.35">Tracts A and B both</text>
<text class="s" font-size="5.6" textLength="66.0" lengthAdjust="spacingAndGlyphs" x="276.00" y="365.60">contain at least 8,500 sq.</text>
<text class="s" font-size="5.6" textLength="52.0" lengthAdjust="spacingAndGlyphs" x="276.00" y="370.85">ft. of buildable area.</text>
<text class="s" font-size="5.4" textLength="50.0" lengthAdjust="spacingAndGlyphs" transform="translate(405.30 342.50) rotate(69.0)">N21°36'07"W  110.13'</text>
<text class="b" font-size="4.3" text-anchor="middle" textLength="50.0" lengthAdjust="spacingAndGlyphs" x="497.50" y="330.52">Jeanne R. Lindsay's land</text>
<text class="b" font-size="4.3" text-anchor="middle" textLength="31.0" lengthAdjust="spacingAndGlyphs" x="497.50" y="334.62">as described in</text>
<text class="b" font-size="4.3" text-anchor="middle" textLength="42.0" lengthAdjust="spacingAndGlyphs" x="497.50" y="338.72">Document No. 470453</text>
<text class="sub" font-size="6.8" text-anchor="middle" textLength="25.7" lengthAdjust="spacingAndGlyphs" x="547.20" y="349.84">TRACT B</text>
<text class="sub" font-size="6.8" text-anchor="middle" textLength="43.8" lengthAdjust="spacingAndGlyphs" x="547.20" y="356.34">27,900 sq. ft.,</text>
<text class="sub" font-size="6.8" text-anchor="middle" textLength="38.2" lengthAdjust="spacingAndGlyphs" x="547.20" y="363.04">more or less</text>
<text class="b" font-size="4.4" textLength="20.0" lengthAdjust="spacingAndGlyphs" x="542.00" y="292.45">Survey line</text>
<text class="s" font-size="4.4" textLength="8.5" lengthAdjust="spacingAndGlyphs" transform="translate(570.00 252.30) rotate(-16.0)">24'±</text>
<text class="b" font-size="4.6" textLength="44.0" lengthAdjust="spacingAndGlyphs" transform="translate(597.60 323.40) rotate(61.5)">S26°50'22"W  150.26'</text>
<text class="b" font-size="4.6" textLength="41.5" lengthAdjust="spacingAndGlyphs" transform="translate(527.40 165.20) rotate(68.0)">S20°56'54"W  160.07'</text>
<text class="b" font-size="4.7" textLength="132.0" lengthAdjust="spacingAndGlyphs" transform="translate(657.20 214.40) rotate(65.2)">Ordinary high water elev. = 1326.3' (NGVD 1929) per the MN DNR</text>
<text class="b" font-size="4.7" textLength="141.0" lengthAdjust="spacingAndGlyphs" transform="translate(650.00 213.40) rotate(65.2)">Highest known water elev. = 1330.2' (NGVD 1929) per the MN DNR</text>
<text class="b" font-size="4.7" textLength="112.0" lengthAdjust="spacingAndGlyphs" transform="translate(648.80 227.40) rotate(65.2)">Water elev. on May 23, 2023 = 1329.0' (NGVD 1929)</text>
<text class="r" font-size="10.6" textLength="25.5" lengthAdjust="spacingAndGlyphs" transform="translate(675.20 234.20) rotate(63.5)">LAKE</text>
<text class="r" font-size="10.6" textLength="35.5" lengthAdjust="spacingAndGlyphs" transform="translate(695.60 277.20) rotate(63.5)">SALLIE</text>
<text class="b" font-size="4.4" textLength="37.5" lengthAdjust="spacingAndGlyphs" x="682.00" y="386.75">Ordinary high water</text>
<text class="b" font-size="4.4" textLength="33.0" lengthAdjust="spacingAndGlyphs" x="682.00" y="390.65">line of Lake Sallie</text>
<text class="l" font-size="5.6" textLength="21.2" lengthAdjust="spacingAndGlyphs" x="687.50" y="90.85">LEGEND</text>
<text class="s" font-size="5.4" textLength="85.0" lengthAdjust="spacingAndGlyphs" x="648.00" y="101.18">= Denotes iron monuments found.</text>
<text class="s" font-size="5.4" textLength="94.5" lengthAdjust="spacingAndGlyphs" x="648.00" y="106.18">= Denotes iron monuments of record.</text>
<text class="s" font-size="5.4" textLength="111.4" lengthAdjust="spacingAndGlyphs" x="648.00" y="111.78">= Denotes iron monuments set marked with</text>
<text class="s" font-size="5.4" textLength="75.0" lengthAdjust="spacingAndGlyphs" x="648.00" y="122.78">= Denotes magnetic nails set.</text>
<text class="s" font-size="5.4" textLength="112.9" lengthAdjust="spacingAndGlyphs" x="654.00" y="117.68">Minnesota License Nos. 46538/50320/57622.</text>
<circle cx="643.00" cy="99.30" r="1.80" fill="#111" stroke="none" stroke-width="0.6"/>
<circle cx="643.00" cy="104.40" r="1.80" fill="#111" stroke="none" stroke-width="0.6"/>
<circle cx="643.00" cy="110.00" r="1.50" fill="#fff" stroke="#222" stroke-width="0.7"/>
<circle cx="643.00" cy="121.00" r="1.80" fill="#111" stroke="none" stroke-width="0.6"/>
<path d="M643 119.2 A1.8 1.8 0 0 0 641.4 121.9 Z" fill="#fff" stroke="none" stroke-width="0"/>
<text class="s" font-size="5.6" textLength="53.5" lengthAdjust="spacingAndGlyphs" x="583.75" y="160.75">Orientation of bearing</text>
<text class="s" font-size="5.6" textLength="47.4" lengthAdjust="spacingAndGlyphs" x="586.60" y="166.35">system is assumed.</text>
<path d="M609.3 79 L610.4 95.5 L608.2 95.5 Z" fill="#222" stroke="#222" stroke-width="0.3"/>
<path d="M607.6 96 L610.9 96 L610.5 111 L610 120 L606.6 120 L607 111 Z" fill="#111" stroke="#111" stroke-width="0.3"/>
<path d="M608.0 128 L609.8 128 L609.6 146 L608.9 150.3 L608.2 146 Z" fill="#222" stroke="#222" stroke-width="0.3"/>
<circle cx="609.30" cy="95.80" r="1.70" fill="#fff" stroke="#222" stroke-width="0.7"/>
<path d="M604.80 111.00 L612.90 111.00" fill="none" stroke="#222" stroke-width="0.8"/>
<path d="M611.2 109.2 L613.6 110.6 L611.4 111.4 Z" fill="#888" stroke="#333" stroke-width="0.5"/>
<path d="M610 116.6 C612.6 119 613 123 611.2 126" fill="none" stroke="#222" stroke-width="0.8"/>
<circle cx="609.40" cy="125.80" r="2.40" fill="#fff" stroke="#222" stroke-width="0.8"/>
<rect x="666.25" y="145.70" width="63.70" height="6.70" fill="#fff" stroke="#222" stroke-width="0.5"/>
<rect x="666.25" y="145.70" width="6.40" height="3.20" fill="#111"/>
<rect x="672.65" y="148.90" width="6.40" height="3.50" fill="#111"/>
<rect x="679.05" y="145.70" width="6.40" height="3.20" fill="#111"/>
<rect x="685.45" y="148.90" width="6.40" height="3.50" fill="#111"/>
<rect x="691.85" y="145.70" width="6.40" height="3.20" fill="#111"/>
<rect x="698.25" y="148.90" width="15.60" height="3.50" fill="#111"/>
<rect x="713.85" y="145.70" width="16.10" height="3.20" fill="#111"/>
<text class="s" font-size="4.8" textLength="4.4" lengthAdjust="spacingAndGlyphs" x="665.60" y="143.58">0'</text>
<text class="s" font-size="4.8" textLength="7.2" lengthAdjust="spacingAndGlyphs" x="696.30" y="143.58">30'</text>
<text class="s" font-size="4.8" textLength="8.0" lengthAdjust="spacingAndGlyphs" x="727.00" y="143.58">60'</text>
<text class="s" font-size="5.2" textLength="33.0" lengthAdjust="spacingAndGlyphs" x="682.00" y="157.32">Graphic Scale</text>
<text class="s" font-size="5.4" textLength="60.2" lengthAdjust="spacingAndGlyphs" x="668.75" y="165.78">Scale: 1 inch = 30 feet</text>
<text class="s" font-size="4.6" textLength="14.0" lengthAdjust="spacingAndGlyphs" x="552.00" y="420.12">168.92'</text>
<text class="s" font-size="5.6" textLength="56.0" lengthAdjust="spacingAndGlyphs" x="522.00" y="428.05">S89°14'23"W  221.31'±</text>
<path d="M510.00 426.00 L519.00 426.00" fill="none" stroke="#444" stroke-width="0.5" stroke-dasharray="3 1"/>
<path d="M581.00 426.00 L590.00 426.00" fill="none" stroke="#444" stroke-width="0.5" stroke-dasharray="3 1"/>
<text class="s" font-size="4.4" textLength="8.5" lengthAdjust="spacingAndGlyphs" x="653.00" y="420.45">17'±</text>
<text class="s" font-size="4.6" textLength="10.2" lengthAdjust="spacingAndGlyphs" x="446.00" y="419.72">35.39'</text>
<text class="s" font-size="4.2" textLength="11.5" lengthAdjust="spacingAndGlyphs" transform="translate(443.60 428.50) rotate(60.0)">13.9'±</text>
<text class="s" font-size="4.2" textLength="22.0" lengthAdjust="spacingAndGlyphs" transform="translate(436.50 446.00) rotate(66.0)">N27°39'34"W</text>
<text class="s" font-size="4.2" textLength="11.0" lengthAdjust="spacingAndGlyphs" transform="translate(441.50 450.00) rotate(66.0)">46.91'</text>
<text class="s" font-size="4.6" textLength="40.0" lengthAdjust="spacingAndGlyphs" transform="translate(454.30 489.50) rotate(66.0)">N27°39'34"W  40.68'</text>
<text class="b" font-size="4.4" textLength="51.0" lengthAdjust="spacingAndGlyphs" x="500.00" y="440.45">Public road easement for</text>
<text class="b" font-size="4.4" textLength="42.0" lengthAdjust="spacingAndGlyphs" x="500.00" y="444.75">West Lake Sallie Drive.</text>
<text class="b" font-size="4.4" textLength="49.0" lengthAdjust="spacingAndGlyphs" x="500.00" y="449.45">33.00' from ℄ per 1928</text>
<text class="b" font-size="4.4" textLength="54.0" lengthAdjust="spacingAndGlyphs" x="500.00" y="453.75">Road Order of Town Board</text>
<text class="b" font-size="4.4" text-anchor="middle" textLength="62.0" lengthAdjust="spacingAndGlyphs" x="580.80" y="474.95">See Meadowland Surveying, Inc.</text>
<text class="b" font-size="4.4" text-anchor="middle" textLength="62.5" lengthAdjust="spacingAndGlyphs" x="580.80" y="479.70">Certificate of Survey 7937R-15</text>
<text class="b" font-size="4.4" text-anchor="middle" textLength="38.0" lengthAdjust="spacingAndGlyphs" x="580.80" y="483.70">dated Aug. 6, 2018.</text>
<text class="b" font-size="4.4" textLength="26.0" lengthAdjust="spacingAndGlyphs" x="550.00" y="560.15">South line of</text>
<text class="b" font-size="4.4" textLength="37.7" lengthAdjust="spacingAndGlyphs" x="550.00" y="564.55">Section 18-138-41</text>
<text class="b" font-size="4.4" text-anchor="end" textLength="46.5" lengthAdjust="spacingAndGlyphs" x="728.30" y="561.20">Meander Corner No. 87.</text>
<text class="b" font-size="4.4" text-anchor="end" textLength="40.0" lengthAdjust="spacingAndGlyphs" x="728.30" y="565.45">Monument now gone</text>
<text class="b" font-size="4.4" text-anchor="end" textLength="57.5" lengthAdjust="spacingAndGlyphs" x="728.30" y="569.95">because of shoreline erosion.</text>
<text class="b" font-size="4.3" text-anchor="end" textLength="23.0" lengthAdjust="spacingAndGlyphs" x="473.50" y="550.42">Δ=02°57'03"</text>
<text class="b" font-size="4.3" text-anchor="end" textLength="19.5" lengthAdjust="spacingAndGlyphs" x="473.50" y="554.67">R=850.00'</text>
<text class="b" font-size="4.3" text-anchor="end" textLength="16.5" lengthAdjust="spacingAndGlyphs" x="473.50" y="559.17">L=42.99'</text>
<text class="b" font-size="4.3" text-anchor="end" textLength="16.5" lengthAdjust="spacingAndGlyphs" x="473.50" y="563.42">C=42.99'</text>
<text class="b" font-size="4.3" text-anchor="end" textLength="31.5" lengthAdjust="spacingAndGlyphs" x="473.50" y="567.92">CB=N25°01'37"W</text>
<text class="s" font-size="4.5" textLength="11.5" lengthAdjust="spacingAndGlyphs" x="456.00" y="578.49">74.48'</text>
<text class="s" font-size="4.8" textLength="43.0" lengthAdjust="spacingAndGlyphs" x="335.50" y="585.28">N89°18'41"E  2588.92'</text>
<text class="s" font-size="4.8" textLength="41.5" lengthAdjust="spacingAndGlyphs" x="566.50" y="585.78">N89°18'41"E  312.86'</text>
<path d="M553.00 584.40 L564.00 584.40" fill="none" stroke="#444" stroke-width="0.5" stroke-dasharray="2.5 1"/>
<path d="M610.00 584.40 L618.00 584.40" fill="none" stroke="#444" stroke-width="0.5" stroke-dasharray="2.5 1"/>
<text class="s" font-size="4.6" textLength="13.0" lengthAdjust="spacingAndGlyphs" x="620.00" y="578.52">238.37'</text>
<path d="M612.00 577.30 L618.50 577.30" fill="none" stroke="#444" stroke-width="0.5" stroke-dasharray="2.5 1"/>
<path d="M635.00 577.30 L641.00 577.30" fill="none" stroke="#444" stroke-width="0.5" stroke-dasharray="2.5 1"/>
<text class="b" font-size="4.3" text-anchor="middle" textLength="40.0" lengthAdjust="spacingAndGlyphs" x="291.00" y="547.17">Southwest corner of</text>
<text class="b" font-size="4.3" text-anchor="middle" textLength="38.0" lengthAdjust="spacingAndGlyphs" x="291.00" y="551.17">Section 18-138-41</text>
<text class="b" font-size="4.3" text-anchor="end" textLength="28.0" lengthAdjust="spacingAndGlyphs" x="409.75" y="562.17">South quarter</text>
<text class="b" font-size="4.3" text-anchor="end" textLength="36.0" lengthAdjust="spacingAndGlyphs" x="409.75" y="566.17">corner of Section</text>
<text class="b" font-size="4.3" text-anchor="end" textLength="22.0" lengthAdjust="spacingAndGlyphs" x="409.75" y="570.42">18-138-41</text>
<path id="rt292" d="M281.80 579.70 A10.3 10.3 0 0 1 302.40 579.70" fill="none"/>
<path id="rb292" d="M279.50 580.70 A12.6 12.6 0 0 0 304.70 580.70" fill="none"/>
<text class="b" font-size="3.9"><textPath href="#rt292" startOffset="50%" text-anchor="middle" textLength="28" lengthAdjust="spacingAndGlyphs">T138N R41W</textPath></text>
<text class="b" font-size="3.9"><textPath href="#rb292" startOffset="50%" text-anchor="middle" textLength="34" lengthAdjust="spacingAndGlyphs">R41W T138N</textPath></text>
<text class="b" font-size="3.6" text-anchor="middle" x="292.10" y="578.60">13 18</text>
<text class="b" font-size="3.6" text-anchor="middle" x="292.10" y="584.60">24 19</text>
<path id="rt421" d="M411.20 579.70 A10.3 10.3 0 0 1 431.80 579.70" fill="none"/>
<path id="rb421" d="M408.90 580.70 A12.6 12.6 0 0 0 434.10 580.70" fill="none"/>
<text class="b" font-size="3.9"><textPath href="#rt421" startOffset="50%" text-anchor="middle" textLength="28" lengthAdjust="spacingAndGlyphs">T138N R41W</textPath></text>
<text class="b" font-size="3.9"><textPath href="#rb421" startOffset="50%" text-anchor="middle" textLength="34" lengthAdjust="spacingAndGlyphs">R41W T138N</textPath></text>
<text class="b" font-size="3.6" text-anchor="middle" x="421.50" y="578.60">18</text>
<text class="b" font-size="3.6" text-anchor="middle" x="421.50" y="584.60">19</text>
<text class="g" font-size="8.2" text-anchor="middle" textLength="16.0" lengthAdjust="spacing" transform="translate(340.60 237.00) rotate(69.0)">WEST</text>
<text class="g" font-size="8.2" text-anchor="middle" textLength="15.5" lengthAdjust="spacing" transform="translate(423.20 356.00) rotate(69.0)">LAKE</text>
<text class="g" font-size="8.2" text-anchor="middle" textLength="20.0" lengthAdjust="spacing" transform="translate(436.50 483.80) rotate(66.0)">SALLIE</text>
<text class="g" font-size="8.2" text-anchor="middle" textLength="17.0" lengthAdjust="spacing" transform="translate(530.50 606.80) rotate(58.0)">DRIVE</text>
<text class="g" font-size="10" text-anchor="middle" textLength="48.0" lengthAdjust="spacing" transform="translate(323.00 453.00) rotate(-59.0)">SECTION</text>
<text class="go" font-size="9" text-anchor="middle" textLength="10.0" lengthAdjust="spacing" transform="translate(357.80 393.80) rotate(-59.0)">18</text>
<path d="M379.70 351.60 L382.60 346.80" fill="none" stroke="#666" stroke-width="0.6"/>
<text class="go" font-size="9" text-anchor="middle" textLength="16.0" lengthAdjust="spacing" transform="translate(422.60 284.30) rotate(-59.0)">138</text>
<path d="M437.60 254.30 L441.20 248.40" fill="none" stroke="#666" stroke-width="0.6"/>
<text class="gf" font-size="9" text-anchor="middle" textLength="10.0" lengthAdjust="spacing" transform="translate(455.00 228.50) rotate(-59.0)">41</text>
<text class="g" font-size="9.6" text-anchor="middle" textLength="24.5" lengthAdjust="spacing" transform="translate(408.60 455.20) rotate(-58.0)">GOVT.</text>
<text class="g" font-size="9.6" text-anchor="middle" textLength="15.5" lengthAdjust="spacing" transform="translate(442.60 397.00) rotate(-58.0)">LOT</text>
<text class="go" font-size="9" text-anchor="middle" transform="translate(463.50 357.00) rotate(-59.0)">7</text>
<text class="g" font-size="7.8" text-anchor="middle" textLength="20.0" lengthAdjust="spacing" transform="translate(353.00 565.30) rotate(0.0)">130TH</text>
<text class="g" font-size="7.8" text-anchor="middle" textLength="24.5" lengthAdjust="spacing" transform="translate(391.00 600.80) rotate(0.0)">STREET</text>
<text class="b" font-size="4.2" textLength="41.0" lengthAdjust="spacingAndGlyphs" x="266.00" y="647.39">SURVEY DISCLAIMER:</text>
<text class="d" font-size="4.1" textLength="262.0" lengthAdjust="spacingAndGlyphs" x="266.00" y="651.65">This survey was prepared without the benefit of either a title commitment, or an opinion of title, or an abstraction of the parcel</text>
<text class="d" font-size="4.1" textLength="258.0" lengthAdjust="spacingAndGlyphs" x="266.00" y="656.02">for easements of record and/or rights of way.  Meadowland Surveying, Inc., and the undersigned professional surveyor make no</text>
<text class="d" font-size="4.1" textLength="259.0" lengthAdjust="spacingAndGlyphs" x="266.00" y="660.39">guarantees or representations regarding information shown herein pertaining to easements, reservations, rights of way, setback</text>
<text class="d" font-size="4.1" textLength="252.0" lengthAdjust="spacingAndGlyphs" x="266.00" y="664.76">lines, agreements, variances, or other similar matters other than those shown upon this survey or noted upon it.  The</text>
<text class="d" font-size="4.1" textLength="259.5" lengthAdjust="spacingAndGlyphs" x="266.00" y="669.13">undersigned surveyor has not made a search of the public records for any titles, deeds, easements, reservations, rights of way,</text>
<text class="d" font-size="4.1" textLength="259.0" lengthAdjust="spacingAndGlyphs" x="266.00" y="673.50">setback lines, agreements, variances, or other similar matters other than what is readily identifiable through the County website.</text>
<text class="d" font-size="4.1" textLength="256.0" lengthAdjust="spacingAndGlyphs" x="266.00" y="677.87">The use of the County website is by no means to be construed as a proper or thorough investigation of the public records as</text>
<text class="d" font-size="4.1" textLength="262.5" lengthAdjust="spacingAndGlyphs" x="266.00" y="682.24">would be accomplished by an abstract of title and/or an opinion of title by an attorney at law.  Meadowland Surveying, Inc., and</text>
<text class="d" font-size="4.1" textLength="247.0" lengthAdjust="spacingAndGlyphs" x="266.00" y="686.61">the undersigned surveyor make no representation as to the status of title or easements on the property described herein.</text>
<path d="M259.10 693.50 L595.30 693.50" fill="none" stroke="#2a2a2a" stroke-width="1.3"/>
<path d="M453.50 693.50 L453.50 731.40" fill="none" stroke="#2a2a2a" stroke-width="1.3"/>
<path d="M516.50 693.50 L516.50 731.40" fill="none" stroke="#2a2a2a" stroke-width="1.3"/>
<path d="M595.30 693.50 L595.30 731.40" fill="none" stroke="#2a2a2a" stroke-width="1.3"/>
<path d="M548.60 693.50 L548.60 731.40" fill="none" stroke="#2a2a2a" stroke-width="1.0"/>
<path d="M516.50 701.20 L595.30 701.20" fill="none" stroke="#2e2e2e" stroke-width="1.0"/>
<path d="M516.50 709.00 L595.30 709.00" fill="none" stroke="#2e2e2e" stroke-width="1.0"/>
<path d="M516.50 716.70 L595.30 716.70" fill="none" stroke="#2e2e2e" stroke-width="1.0"/>
<path d="M516.50 724.30 L595.30 724.30" fill="none" stroke="#2e2e2e" stroke-width="1.0"/>
<text class="t" font-size="9.6" text-anchor="middle" textLength="180.0" lengthAdjust="spacingAndGlyphs" x="357.30" y="703.60">MEADOWLAND  SURVEYING,  INC.</text>
<text class="s" font-size="5" textLength="120.0" lengthAdjust="spacingAndGlyphs" x="294.00" y="710.25">1118 HWY 59 SOUTH, DETROIT LAKES, MN 56501</text>
<text class="s" font-size="5" textLength="106.5" lengthAdjust="spacingAndGlyphs" x="301.50" y="716.05">EMAIL:  frontdesk@meadowlandsurveying.com</text>
<text class="s" font-size="5" textLength="73.2" lengthAdjust="spacingAndGlyphs" x="318.50" y="722.25">www.meadowlandsurveying.com</text>
<text class="s" font-size="5" textLength="37.0" lengthAdjust="spacingAndGlyphs" x="333.50" y="728.45">218-847-4289</text>
<text class="tb" font-size="6.6" textLength="23.8" lengthAdjust="spacingAndGlyphs" x="473.50" y="703.80">CLIENT:</text>
<text class="b" font-size="4.0" textLength="30.4" lengthAdjust="spacingAndGlyphs" x="459.00" y="712.62">BRUCE LINDSAY</text>
<text class="b" font-size="4.0" textLength="50.7" lengthAdjust="spacingAndGlyphs" x="459.00" y="717.02">13058 W LAKE SALLIE DR</text>
<text class="b" font-size="4.0" textLength="52.3" lengthAdjust="spacingAndGlyphs" x="459.00" y="721.32">DETROIT LAKES, MN 56501</text>
<text class="tb" font-size="4.7" textLength="27.0" lengthAdjust="spacingAndGlyphs" x="518.80" y="698.90">COMP FILE:</text>
<text class="b" font-size="3.8" textLength="43.0" lengthAdjust="spacingAndGlyphs" x="551.40" y="698.70">18BLN46S(COCOORDS)</text>
<text class="tb" font-size="4.7" textLength="16.0" lengthAdjust="spacingAndGlyphs" x="518.80" y="706.60">S/T/R:</text>
<text class="b" font-size="3.8" textLength="22.0" lengthAdjust="spacingAndGlyphs" x="551.40" y="706.40">18-138-41</text>
<text class="tb" font-size="4.7" textLength="25.5" lengthAdjust="spacingAndGlyphs" x="518.80" y="714.50">DWG FILE:</text>
<text class="b" font-size="3.8" textLength="30.5" lengthAdjust="spacingAndGlyphs" x="551.40" y="714.30">18LINDSAY_COS</text>
<text class="tb" font-size="4.7" textLength="23.0" lengthAdjust="spacingAndGlyphs" x="518.80" y="722.10">COMP BY:</text>
<text class="b" font-size="3.8" textLength="7.5" lengthAdjust="spacingAndGlyphs" x="551.40" y="721.90">JDA</text>
<text class="tb" font-size="4.7" textLength="26.0" lengthAdjust="spacingAndGlyphs" x="518.80" y="729.50">DRAWN BY:</text>
<text class="b" font-size="3.8" textLength="7.5" lengthAdjust="spacingAndGlyphs" x="551.40" y="729.30">JDA</text>
<path id="seal" d="M603.3 706.5 A27.4 27.4 0 0 1 658.1 706.5" fill="none"/>
<text class="b" font-size="4.1"><textPath href="#seal" startOffset="50%" text-anchor="middle" textLength="85" lengthAdjust="spacing">Raised seal indicates original copy</textPath></text>
<text class="s" font-size="5.6" textLength="100.0" lengthAdjust="spacingAndGlyphs" x="670.00" y="645.85">I hereby certify that this survey, plan, or</text>
<text class="s" font-size="5.6" textLength="98.8" lengthAdjust="spacingAndGlyphs" x="670.00" y="651.10">report was prepared by me or under my</text>
<text class="s" font-size="5.6" textLength="96.2" lengthAdjust="spacingAndGlyphs" x="670.00" y="656.10">direct supervision and that I am a duly</text>
<text class="s" font-size="5.6" textLength="101.2" lengthAdjust="spacingAndGlyphs" x="670.00" y="661.10">Licensed Land Surveyor under the laws of</text>
<text class="s" font-size="5.6" textLength="55.6" lengthAdjust="spacingAndGlyphs" x="670.00" y="666.10">the State of Minnesota.</text>
<text class="s" font-size="5.8" textLength="38.6" lengthAdjust="spacingAndGlyphs" x="672.00" y="677.21">Scott R. Walz</text>
<path d="M670.00 678.30 L778.70 678.30" fill="none" stroke="#333" stroke-width="0.6"/>
<path d="M670.00 693.80 L778.70 693.80" fill="none" stroke="#333" stroke-width="0.6"/>
<path d="M670.00 708.80 L749.40 708.80" fill="none" stroke="#333" stroke-width="0.6"/>
<path d="M753.80 708.80 L778.70 708.80" fill="none" stroke="#333" stroke-width="0.6"/>
<text class="s" font-size="4.6" textLength="27.5" lengthAdjust="spacingAndGlyphs" x="670.00" y="682.92">Print Name:</text>
<text class="s" font-size="4.6" textLength="22.8" lengthAdjust="spacingAndGlyphs" x="670.00" y="698.72">Signature:</text>
<text class="s" font-size="5.8" textLength="41.0" lengthAdjust="spacingAndGlyphs" x="672.00" y="707.41">June 13, 2023</text>
<text class="s" font-size="5.8" textLength="17.5" lengthAdjust="spacingAndGlyphs" x="757.00" y="707.41">50320</text>
<text class="s" font-size="4.6" textLength="12.5" lengthAdjust="spacingAndGlyphs" x="670.00" y="713.52">Date:</text>
<text class="s" font-size="4.6" textLength="23.0" lengthAdjust="spacingAndGlyphs" x="755.00" y="713.52">License #</text>
<path d="M678.8 679.2 C676 684 673.5 689 672.3 691.2 C674 690 677 686 679 684.5 L677.4 691.6 M681.6 686 C679.5 687.5 679.5 691 681.5 690.5 C683 689 683.6 685 684.2 682.6 L683 691.6 M687.6 686 C685.5 687 685.5 690.5 687.5 689.5 C688.5 688 688.6 686 688.6 686 L686.4 694.4 M691.4 685.6 L694.4 691.8 L697.5 684.2 L700 691.6 L704.2 682.8 M701.6 689.4 C703.5 687 706 686.6 706.6 689 C707.4 691.4 706 694 704.4 695.2 M671.4 692.6 C675 691 680 690.8 684 691.4" fill="none" stroke="#1e1e1e" stroke-width="0.95" stroke-linejoin="round" stroke-linecap="round"/>
<path d="M668.30 731.40 L668.30 719.10 L782.20 719.10" fill="none" stroke="#2a2a2a" stroke-width="1.4"/>
<text class="tb" font-size="4.6" textLength="53.2" lengthAdjust="spacingAndGlyphs" x="673.30" y="727.60">DRAWING NUMBER:</text>
<text class="n" font-size="9.6" textLength="45.5" lengthAdjust="spacingAndGlyphs" x="730.80" y="729.30">10357-15</text>
<path d="M450.00 464.00 L451.99 462.17 L452.66 463.51 Z" fill="#222" stroke="#222" stroke-width="0.2"/>
<path d="M481.30 446.90 L483.85 445.99 L483.94 447.48 Z" fill="#222" stroke="#222" stroke-width="0.2"/>
<path d="M604.50 422.80 L603.49 425.31 L602.31 424.39 Z" fill="#222" stroke="#222" stroke-width="0.2"/>
<path d="M563.00 528.00 L563.64 525.37 L564.94 526.11 Z" fill="#222" stroke="#222" stroke-width="0.2"/>
<path d="M549.30 421.90 L547.77 419.67 L549.19 419.20 Z" fill="#222" stroke="#222" stroke-width="0.2"/>
<path d="M523.10 263.10 L521.87 260.69 L523.34 260.40 Z" fill="#222" stroke="#222" stroke-width="0.2"/>
<path d="M460.60 263.10 L461.74 265.56 L460.25 265.78 Z" fill="#222" stroke="#222" stroke-width="0.2"/>
<path d="M462.50 117.50 L463.94 119.79 L462.49 120.21 Z" fill="#222" stroke="#222" stroke-width="0.2"/>
<path d="M386.30 143.80 L384.83 141.53 L386.26 141.09 Z" fill="#222" stroke="#222" stroke-width="0.2"/>
<path d="M491.30 111.30 L491.19 114.00 L489.77 113.53 Z" fill="#222" stroke="#222" stroke-width="0.2"/>
<path d="M385.00 299.00 L383.16 300.98 L382.38 299.69 Z" fill="#222" stroke="#222" stroke-width="0.2"/>
<path d="M577.50 288.00 L575.46 289.78 L574.83 288.42 Z" fill="#222" stroke="#222" stroke-width="0.2"/>
<path d="M555.60 580.00 L555.37 577.30 L556.85 577.60 Z" fill="#222" stroke="#222" stroke-width="0.2"/>
<path d="M753.50 580.50 L751.43 578.75 L752.68 577.92 Z" fill="#222" stroke="#222" stroke-width="0.2"/>
<path d="M655.30 396.20 L656.74 393.91 L657.74 395.03 Z" fill="#222" stroke="#222" stroke-width="0.2"/>
<path d="M478.60 109.20 L476.77 107.21 L478.11 106.54 Z" fill="#222" stroke="#222" stroke-width="0.2"/>
<path d="M401.30 337.00 L403.53 335.47 L404.00 336.89 Z" fill="#222" stroke="#222" stroke-width="0.2"/>
<path d="M433.30 325.90 L431.07 327.43 L430.60 326.01 Z" fill="#222" stroke="#222" stroke-width="0.2"/>
</svg>
</body></html>
